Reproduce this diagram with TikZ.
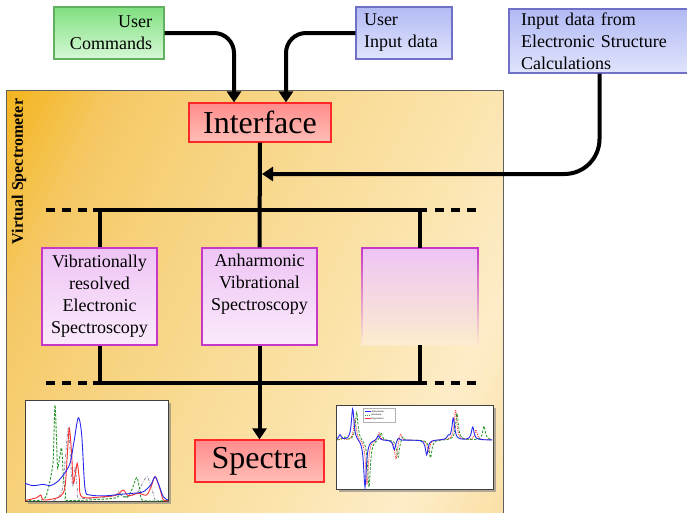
\documentclass[tikz,border=0pt]{standalone}
\usepackage{fontspec}
\setmainfont{Liberation Serif}
\usetikzlibrary{arrows.meta,shadows,calc}
\definecolor{g0}{RGB}{243,180,28}
\definecolor{g1}{RGB}{245,200,100}
\definecolor{g2}{RGB}{247,210,125}
\definecolor{g3}{RGB}{249,220,152}
\definecolor{g4}{RGB}{251,229,176}
\definecolor{g5}{RGB}{253,236,200}
\definecolor{g6}{RGB}{248,216,142}
\definecolor{grT}{RGB}{128,224,128}
\definecolor{grB}{RGB}{214,248,214}
\definecolor{grD}{RGB}{96,176,96}
\definecolor{blT}{RGB}{178,186,244}
\definecolor{blB}{RGB}{224,228,252}
\definecolor{blD}{RGB}{112,112,200}
\definecolor{rdT}{RGB}{255,140,140}
\definecolor{rdB}{RGB}{255,190,182}
\definecolor{rdD}{RGB}{255,40,40}
\definecolor{pkT}{RGB}{238,196,245}
\definecolor{pkB}{RGB}{251,234,251}
\definecolor{pkD}{RGB}{200,56,200}
\definecolor{pkM}{RGB}{248,218,226}
\definecolor{pkF}{RGB}{252,236,205}
\definecolor{frD}{RGB}{96,96,96}
\definecolor{cBlue}{RGB}{40,40,240}
\definecolor{cRed}{RGB}{250,50,50}
\definecolor{cGreen}{RGB}{40,150,40}
\definecolor{cGray}{RGB}{150,150,170}
\begin{document}
\begin{tikzpicture}[x=1pt,y=-1pt,
  lbl/.style={font=\fontsize{18}{22}\selectfont},
  big/.style={font=\fontsize{32}{36}\selectfont},
  boxbase/.style={draw, line width=1.2pt, inner sep=0pt, align=center},
  greenbox/.style={boxbase, draw=grD, top color=grT, bottom color=grB},
  bluebox/.style={boxbase, draw=blD, top color=blT, bottom color=blB},
  redbox/.style={boxbase, draw=rdD, top color=rdT, bottom color=rdB},
  pinkbox/.style={boxbase, draw=pkD, top color=pkT, bottom color=pkB},
  line/.style={line width=4pt},
  conn/.style={line width=4pt, -{Triangle[length=11pt,width=14pt]}},
  dsh/.style={line width=4pt, dash pattern=on 9pt off 7pt},
  plotbox/.style={draw=black!75, line width=1.2pt, fill=white, anchor=north west, inner sep=0pt,
    drop shadow={shadow xshift=2.5pt, shadow yshift=-2.5pt, opacity=0.6}},
  declare function={Lz(\a,\b)=1/(1+((\a-\b)/1.6)^2);}
]
\useasboundingbox (0,0) rectangle (687,512);
\fill[white] (0,0) rectangle (687,512);

% frame with oblique gradient
\begin{scope}
\clip (6,90) rectangle (503,530);
\foreach \ua/\ub/\ca/\cb in {0/100/g0/g1, 100/200/g1/g2, 200/320/g2/g3, 320/440/g3/g4, 440/540/g4/g5, 540/700/g5/g6} {
  \foreach \k in {0,...,11} {
    \pgfmathsetmacro\uu{\ua+(\ub-\ua)*\k/12}
    \pgfmathsetmacro\uv{\ua+(\ub-\ua)*(\k+1)/12+1}
    \pgfmathsetmacro\pp{(\k+0.5)*100/12}
    \pgfmathsetmacro\xa{6+\uu*0.896+266.4}
    \pgfmathsetmacro\ya{90+\uu*0.444-537.6}
    \pgfmathsetmacro\xb{6+\uu*0.896-266.4}
    \pgfmathsetmacro\yb{90+\uu*0.444+537.6}
    \pgfmathsetmacro\xc{6+\uv*0.896-266.4}
    \pgfmathsetmacro\yc{90+\uv*0.444+537.6}
    \pgfmathsetmacro\xd{6+\uv*0.896+266.4}
    \pgfmathsetmacro\yd{90+\uv*0.444-537.6}
    \fill[\cb!\pp!\ca] (\xa,\ya) -- (\xb,\yb) -- (\xc,\yc) -- (\xd,\yd) -- cycle;
  }
}
\end{scope}
\draw[draw=frD, line width=0.8pt] (6,90) rectangle (503,530);
\node[rotate=90, font=\bfseries\fontsize{16}{18}\selectfont] (vslbl) at (19,171.5) {Virtual Spectrometer};

% top boxes
\node[greenbox, lbl, minimum width=110pt, minimum height=52pt, text width=86pt, align=right] (uc) at (109,33) {User\\Commands};
\node[bluebox, lbl, minimum width=96pt, minimum height=52pt, text width=80pt, align=left] (uid) at (404,33) {User\\Input data};
\node[bluebox, lbl, minimum width=181pt, minimum height=64pt, text width=157pt, align=left] (esc) at (599.5,41) {Input data from\\Electronic Structure\\Calculations};

\node[redbox, big, minimum width=142pt, minimum height=39pt] (intf) at (260,122.5) {Interface};

% modules
\node[pinkbox, lbl, minimum width=115pt, minimum height=97pt] (b1) at (99.5,296.5) {Vibrationally\\resolved\\Electronic\\Spectroscopy};
\node[pinkbox, lbl, minimum width=115pt, minimum height=97pt] (b2) at (259.5,296.5) {Anharmonic\\Vibrational\\Spectroscopy\\\strut};
\node[inner sep=0pt, minimum width=116pt, minimum height=97pt, top color=pkT, middle color=pkM, bottom color=pkF] (b3) at (420,296.5) {};
\shade[top color=pkD, bottom color=pkF] ([xshift=-0.7pt]b3.north west) rectangle ([xshift=0.7pt]b3.south west);
\shade[top color=pkD, bottom color=pkF] ([xshift=-0.7pt]b3.north east) rectangle ([xshift=0.7pt]b3.south east);
\draw[draw=pkD, line width=1.4pt] (b3.north west) -- (b3.north east);

\node[redbox, big, minimum width=129pt, minimum height=42pt] (spec) at (259.5,461) {Spectra};

% connectors from inputs
\draw[conn, rounded corners=20pt] (uc.east) -| ([xshift=-26pt]intf.north);
\draw[conn, rounded corners=20pt] (uid.west) -| ([xshift=26pt]intf.north);
\coordinate (tap) at (262,174);
\draw[conn, rounded corners=35pt] (esc.south) |- (tap);

% top bus
\coordinate (tL) at (46,210);
\coordinate (t1) at (93,210);
\coordinate (t2) at (427,210);
\coordinate (tR0) at (435,210);
\coordinate (tR) at (476,210);
\draw[line] (intf.south) -- (b2.north);
\draw[line] (t1) -- (t2);
\draw[dsh] (tL) -- (t1);
\draw[dsh] (tR0) -- (tR);
\draw[line] (b1.north) -- (b1.north |- t1);
\draw[line] (b3.north) -- (b3.north |- t1);

% bottom bus
\coordinate (uL) at (46,383);
\coordinate (u1) at (93,383);
\coordinate (u2) at (427,383);
\coordinate (uR0) at (435,383);
\coordinate (uR) at (476,383);
\draw[line] (u1) -- (u2);
\draw[dsh] (uL) -- (u1);
\draw[dsh] (uR0) -- (uR);
\draw[line] (b1.south) -- (b1.south |- u1);
\draw[line] (b3.south) -- (b3.south |- u1);
\draw[conn] (b2.south) -- (spec.north);

% left plot
\begin{scope}[shift={(25,400)}]
\node[plotbox, minimum width=143pt, minimum height=101pt] (p1) at (0,0) {};
\begin{scope}
\clip (0,0) rectangle (143,101);
\draw[cGray, line width=0.9pt, dash pattern=on 3pt off 1.5pt on 0.8pt off 1.5pt] plot[smooth, tension=0.5] coordinates {
 (28.3,101) (36.7,91.7) (40,61.7) (43.3,28.3) (45.7,61.7) (47.7,86.7) (50,66.7) (52.3,88.3) (55,98.3)
 (88.3,96) (93.3,91.7) (98.3,96.7) (111.7,93.3) (118.3,81.7) (122.3,76.7) (126.7,88.3) (130,100)};
\draw[cGreen, line width=0.9pt, dash pattern=on 2.5pt off 1.5pt] plot[smooth, tension=0.5] coordinates {
 (0,100.5) (18.3,99.5) (23.3,88.3) (26.7,71.7) (28.3,58.3) (30,5) (31.7,45) (32.7,68.3) (35,55) (36.7,48.3)
 (38.3,75) (40.7,95) (43.3,100.5) (88.3,98.3) (95,94.3) (101.7,97.7) (106.7,90) (111.7,77.7) (115.3,91.7) (118.3,100.5) (143,100.5)};
\draw[cRed, line width=0.9pt] plot[smooth, tension=0.5] coordinates {
 (0,100.5) (11.7,97.7) (15.7,95) (19,100) (35,96.7) (40,86.7) (42.3,55) (44.3,28.3) (46.7,55) (48.3,83.3)
 (50.7,71.7) (52.3,63.3) (54.3,78.3) (56.7,96.7) (78.3,96.7) (91.7,95) (98.3,90) (103.3,95.7) (113.3,93.3)
 (121.7,95) (126.7,85) (130,76.7) (134.3,86.7) (138.3,100) (143,100.5)};
\draw[cBlue, line width=0.9pt] plot[smooth, tension=0.5] coordinates {
 (0,83.3) (8.3,85.7) (18.3,84.3) (25,85.7) (31.7,82.3) (38.3,75) (45,63.3) (49,41.7) (53.3,17.7) (56.7,35)
 (60,88.3) (65,95) (81.7,95.7) (95,94.3) (108.3,93.3) (118.3,91.7) (125.7,85) (130,76.7) (133.3,83.3)
 (138.3,96.7) (143,100)};
\end{scope}
\end{scope}

% right plot
\begin{scope}[shift={(336,405)}]
\node[plotbox, minimum width=157pt, minimum height=84pt] (p2) at (0,0) {};
\begin{scope}
\clip (0,0) rectangle (157,84);
\draw[cRed, line width=0.8pt, dash pattern=on 1pt off 1pt] plot[domain=1:156, samples=300]
 (\x, {35 - 2*Lz(\x,6) - 22*Lz(\x,19) + 45*Lz(\x,31) - 8*Lz(\x,43) + 20*Lz(\x,60) - 8*Lz(\x,64.5) + 12*Lz(\x,92.5) - 30*Lz(\x,119.5) - 10*Lz(\x,140)});
\draw[cGreen, line width=0.8pt, dash pattern=on 2.5pt off 1.5pt] plot[domain=1:156, samples=300]
 (\x, {35 - 3*Lz(\x,8) - 28*Lz(\x,20.7) + 48*Lz(\x,33) - 8*Lz(\x,45) + 18*Lz(\x,62) - 5*Lz(\x,66.5) + 18*Lz(\x,94.5) - 27*Lz(\x,121) - 14*Lz(\x,148)});
\draw[cBlue, line width=0.9pt] plot[domain=1:156, samples=300]
 (\x, {35 - 5*Lz(\x,4) - 32*Lz(\x,16.7) + 48*Lz(\x,29) - 5*Lz(\x,42.3) + 10*Lz(\x,58.3) - 3*Lz(\x,62.3) + 15*Lz(\x,90.7) - 3*Lz(\x,112.3) - 22*Lz(\x,117.3) - 13*Lz(\x,136.7)});
\end{scope}
\node[draw=black!30, line width=0.3pt, fill=white, fill opacity=0.85, minimum width=32pt, minimum height=13.5pt, anchor=north west, inner sep=0pt] (leg) at (27,3) {};
\coordinate (la1) at (29,6.5); \coordinate (lb1) at (35,6.5);
\coordinate (la2) at (29,10); \coordinate (lb2) at (35,10);
\coordinate (la3) at (29,13.5); \coordinate (lb3) at (35,13.5);
\draw[cBlue, line width=0.6pt] (la1) -- (lb1);
\draw[cGreen, line width=0.6pt, dash pattern=on 1.2pt off 0.8pt] (la2) -- (lb2);
\draw[cRed, line width=0.6pt, dash pattern=on 0.5pt off 0.5pt] (la3) -- (lb3);
\node[anchor=west, inner sep=0.3pt, font=\fontsize{2.6}{3}\selectfont] (leg1) at (lb1) {Anharmonic};
\node[anchor=west, inner sep=0.3pt, font=\fontsize{2.6}{3}\selectfont] (leg2) at (lb2) {Harmonic};
\node[anchor=west, inner sep=0.3pt, font=\fontsize{2.6}{3}\selectfont] (leg3) at (lb3) {Experiment};
\end{scope}
\end{tikzpicture}
\end{document}
